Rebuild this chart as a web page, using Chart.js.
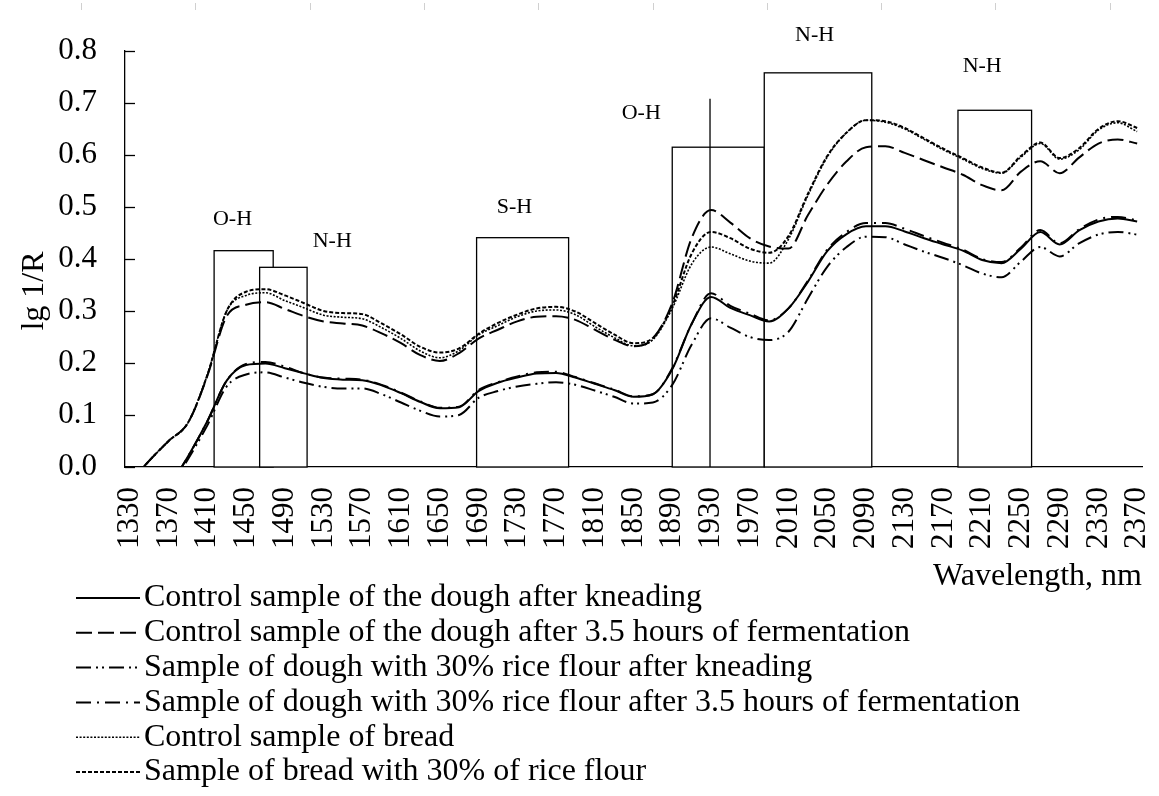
<!DOCTYPE html>
<html>
<head>
<meta charset="utf-8">
<script src="https://cdn.jsdelivr.net/npm/chart.js@4.4.1/dist/chart.umd.min.js"></script>
<style>
  html, body { margin: 0; padding: 0; background: #fff; }
  #wrap { position: relative; width: 1159px; height: 796px; }
</style>
</head>
<body>
<div id="wrap"><canvas id="myChart"></canvas></div>
<script>
const wavelengths = [1330,1350,1370,1390,1410,1430,1450,1470,1490,1510,1530,1550,1570,1590,1610,1630,1650,1670,1690,1710,1730,1750,1770,1790,1810,1830,1850,1870,1890,1910,1930,1950,1970,1990,2010,2030,2050,2070,2090,2110,2130,2150,2170,2190,2210,2230,2250,2270,2290,2310,2330,2350,2370];

// lg 1/R for each sample
const doughKneaded = [-0.15,-0.1,-0.04,0.02,0.088,0.166,0.196,0.199,0.19,0.18,0.171,0.168,0.167,0.157,0.142,0.125,0.113,0.115,0.146,0.162,0.172,0.18,0.181,0.172,0.16,0.148,0.135,0.14,0.188,0.275,0.327,0.306,0.292,0.28,0.305,0.356,0.415,0.448,0.463,0.463,0.453,0.44,0.428,0.416,0.398,0.392,0.42,0.452,0.428,0.455,0.472,0.478,0.472];
const doughFermented = [-0.03,0.012,0.05,0.085,0.175,0.29,0.312,0.317,0.304,0.29,0.28,0.276,0.272,0.257,0.238,0.215,0.204,0.219,0.247,0.264,0.28,0.289,0.29,0.283,0.264,0.245,0.232,0.247,0.315,0.44,0.494,0.47,0.44,0.424,0.42,0.484,0.543,0.588,0.615,0.617,0.604,0.59,0.576,0.562,0.542,0.532,0.568,0.588,0.565,0.595,0.622,0.63,0.622];
const riceKneaded = [-0.15,-0.1,-0.045,0.015,0.08,0.155,0.178,0.182,0.172,0.162,0.154,0.151,0.151,0.14,0.124,0.108,0.097,0.1,0.133,0.146,0.155,0.16,0.163,0.158,0.147,0.135,0.122,0.124,0.158,0.235,0.286,0.268,0.25,0.244,0.26,0.324,0.385,0.423,0.443,0.442,0.428,0.414,0.402,0.388,0.372,0.365,0.395,0.423,0.405,0.43,0.447,0.452,0.447];
const riceFermented = [-0.15,-0.1,-0.04,0.02,0.088,0.166,0.198,0.202,0.193,0.18,0.172,0.17,0.168,0.158,0.143,0.126,0.114,0.116,0.148,0.163,0.174,0.182,0.183,0.173,0.161,0.149,0.136,0.14,0.19,0.275,0.334,0.31,0.295,0.282,0.305,0.358,0.418,0.452,0.469,0.469,0.458,0.444,0.431,0.418,0.4,0.394,0.422,0.456,0.43,0.457,0.476,0.481,0.474];
const breadControl = [-0.03,0.012,0.05,0.085,0.177,0.3,0.33,0.335,0.32,0.306,0.292,0.288,0.285,0.268,0.247,0.223,0.21,0.224,0.254,0.272,0.289,0.3,0.302,0.293,0.27,0.249,0.233,0.245,0.305,0.39,0.423,0.41,0.396,0.392,0.438,0.522,0.596,0.643,0.667,0.663,0.65,0.63,0.61,0.592,0.574,0.565,0.596,0.622,0.592,0.61,0.648,0.662,0.645];
const breadRice = [-0.03,0.012,0.05,0.085,0.177,0.3,0.337,0.342,0.33,0.315,0.3,0.296,0.294,0.276,0.255,0.231,0.22,0.228,0.256,0.277,0.293,0.305,0.308,0.299,0.277,0.255,0.238,0.248,0.31,0.41,0.452,0.44,0.42,0.412,0.444,0.525,0.598,0.643,0.667,0.665,0.652,0.632,0.612,0.594,0.576,0.566,0.598,0.624,0.594,0.613,0.65,0.665,0.652];

const seriesNames = [
    'Control sample of the dough after kneading',
    'Control sample of the dough after 3.5 hours of fermentation',
    'Sample of dough with 30% rice flour after kneading',
    'Sample of dough with 30% rice flour after 3.5 hours of fermentation',
    'Control sample of bread',
    'Sample of bread with 30% of rice flour'
];
const seriesValues = [doughKneaded, doughFermented, riceKneaded, riceFermented, breadControl, breadRice];

// x tick labels
const xTicks = [1330,1370,1410,1450,1490,1530,1570,1610,1650,1690,1730,1770,1810,1850,1890,1930,1970,2010,2050,2090,2130,2170,2210,2250,2290,2330,2370];

// absorption bands marked on the chart
const bandLabel = ['O-H','N-H','S-H','O-H','N-H','N-H'];
const bandStart = [1417,1464,1688,1890,1985,2185];
const bandEnd   = [1478,1513,1783,1985,2096,2261];
const bandTop   = [0.416,0.384,0.441,0.615,0.758,0.686];
const labelAt   = [1436,1539,1727,1858,2037,2210];
const labelVal  = [0.477,0.435,0.5,0.681,0.831,0.771];
// single vertical marker inside the second O-H band
const markerAt = 1929;
const markerTop = 0.708;

const serif = '"Liberation Serif", "Times New Roman", serif';
// line styles: [borderDash, width]
const styles = [
    [[], 2],
    [[16,6], 2],
    [[15,5,2,4,2,5], 2],
    [[15,6,2,6], 2],
    [[2,1.6], 1.6],
    [[4,2], 2]
];

// draws bands, labels, inward y ticks, y title, legend
const overlay = {
    id: 'overlay',
    beforeDatasetsDraw(chart) {
        const ctx = chart.ctx;
        const x = chart.scales.x, y = chart.scales.y;
        ctx.save();
        ctx.strokeStyle = '#000';
        ctx.lineWidth = 1.3;
        const b = y.getPixelForValue(0);
        bandStart.forEach(function(s, i) {
            const l = x.getPixelForValue(s), r = x.getPixelForValue(bandEnd[i]);
            const t = y.getPixelForValue(bandTop[i]);
            ctx.fillStyle = '#fff';
            ctx.fillRect(l, t, r - l, b - t);
            ctx.strokeRect(l, t, r - l, b - t);
        });
        const mx = x.getPixelForValue(markerAt);
        ctx.beginPath();
        ctx.moveTo(mx, y.getPixelForValue(markerTop));
        ctx.lineTo(mx, b);
        ctx.stroke();

        ctx.fillStyle = '#000';
        ctx.font = '22px ' + serif;
        ctx.textAlign = 'center';
        ctx.textBaseline = 'middle';
        bandLabel.forEach(function(t, i) {
            ctx.fillText(t, x.getPixelForValue(labelAt[i]), y.getPixelForValue(labelVal[i]));
        });

        // y ticks point into the plot
        ctx.lineWidth = 1.3;
        y.ticks.forEach(function(tk) {
            const py = Math.round(y.getPixelForValue(tk.value)) + 0.5;
            ctx.beginPath();
            ctx.moveTo(x.left, py);
            ctx.lineTo(x.left + 10, py);
            ctx.stroke();
        });
        ctx.restore();
    },
    afterDraw(chart) {
        const ctx = chart.ctx;
        ctx.save();
        // faint ruler marks at the top edge
        ctx.strokeStyle = '#d0d0d0';
        ctx.lineWidth = 1;
        for (let k = 0; k < 10; k++) {
            const rx = Math.round(81 + k * 114.3) + 0.5;
            ctx.beginPath();
            ctx.moveTo(rx, 3);
            ctx.lineTo(rx, 10);
            ctx.stroke();
        }
        // y axis title
        ctx.fillStyle = '#000';
        ctx.font = '32px ' + serif;
        ctx.textAlign = 'center';
        ctx.textBaseline = 'middle';
        ctx.translate(35, 291);
        ctx.rotate(-Math.PI / 2);
        ctx.fillText('lg 1/R', 0, 0);
        ctx.setTransform(1, 0, 0, 1, 0, 0);
        // legend, one entry per row
        ctx.font = '32px ' + serif;
        ctx.textAlign = 'left';
        ctx.strokeStyle = '#000';
        seriesNames.forEach(function(name, i) {
            const ly = 598 + i * 34.8;
            ctx.setLineDash(styles[i][0]);
            ctx.lineWidth = styles[i][1];
            ctx.beginPath();
            ctx.moveTo(76, ly);
            ctx.lineTo(140, ly);
            ctx.stroke();
            ctx.setLineDash([]);
            ctx.fillText(name, 144, ly);
        });
        ctx.restore();
    }
};

const ctx = document.getElementById('myChart').getContext('2d');
const myChart = new Chart(ctx, {
    type: 'line',
    data: {
        datasets: seriesValues.map(function(vals, i) {
            return {
                label: seriesNames[i],
                data: vals.map(function(v, j) { return {x: wavelengths[j], y: v}; }),
                borderColor: '#000',
                backgroundColor: '#000',
                borderWidth: styles[i][1],
                borderDash: styles[i][0],
                pointRadius: 0,
                fill: false,
                cubicInterpolationMode: 'monotone'
            };
        })
    },
    options: {
        responsive: true,
        maintainAspectRatio: false,
        animation: false,
        layout: { padding: { left: 0, top: 51, right: 17, bottom: 200 } },
        plugins: {
            legend: { display: false },
            tooltip: { enabled: false }
        },
        scales: {
            x: {
                type: 'linear',
                min: 1325,
                max: 2375,
                afterBuildTicks: function(s) { s.ticks = xTicks.map(function(v) { return {value: v}; }); },
                afterFit: function(s) {
                    s.height = 129;
                    s.paddingLeft = 0;
                    s.paddingRight = 0;
                },
                grid: { display: false, drawTicks: false },
                border: { color: '#000', width: 1.3 },
                ticks: {
                    autoSkip: false,
                    minRotation: 90,
                    maxRotation: 90,
                    padding: 20,
                    color: '#000',
                    font: { family: serif, size: 31 },
                    callback: function(v) { return String(v); }
                },
                title: {
                    display: true,
                    text: 'Wavelength, nm',
                    align: 'end',
                    color: '#000',
                    font: { family: serif, size: 32 },
                    padding: { top: 0, bottom: 0 }
                }
            },
            y: {
                min: 0,
                max: 0.8,
                afterFit: function(s) { s.width = 125; },
                grid: { display: false, drawTicks: false },
                border: { color: '#000', width: 1.3 },
                ticks: {
                    stepSize: 0.1,
                    padding: 28,
                    color: '#000',
                    font: { family: serif, size: 31 },
                    callback: function(v) { return v.toFixed(1); }
                }
            }
        }
    },
    plugins: [overlay]
});
</script>
</body>
</html>
